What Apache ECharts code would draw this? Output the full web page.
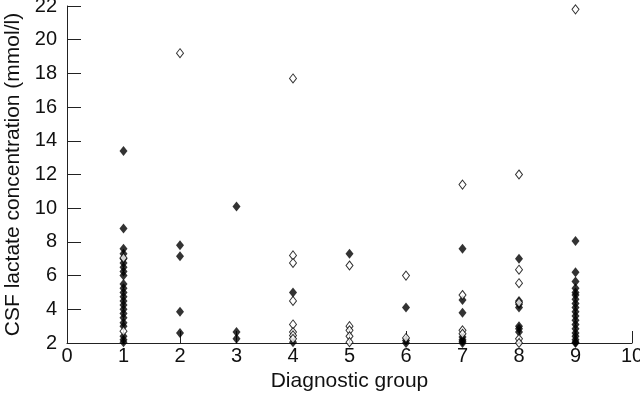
<!DOCTYPE html>
<html>
<head>
<meta charset="utf-8">
<script src="https://cdn.jsdelivr.net/npm/echarts@6/dist/echarts.min.js"></script>
<style>html,body{margin:0;padding:0;background:#fff}#c{width:640px;height:403px}</style>
</head>
<body>
<div id="c"></div>
<script>
var groups = [1, 2, 3, 4, 5, 6, 7, 8, 9];
var filledValues = [
  [13.4, 8.8, 7.6, 7.3, 7.0, 6.75, 6.5, 6.25, 6.0, 5.5, 5.25, 5.0, 4.75, 4.5, 4.25, 4.0, 3.75, 3.5, 3.2, 3.0, 2.4, 2.2, 2.05],
  [7.8, 7.15, 3.85, 2.6],
  [10.1, 2.65, 2.25],
  [5.0, 2.05],
  [7.3],
  [4.1, 2.15, 2.0],
  [7.6, 4.55, 3.8, 2.35, 2.2, 2.1, 2.0],
  [7.0, 4.5, 4.3, 4.1, 3.0, 2.85, 2.65],
  [8.05, 6.2, 5.65, 5.25, 5.0, 4.85, 4.6, 4.35, 4.1, 3.85, 3.6, 3.35, 3.1, 2.85, 2.6, 2.4, 2.2, 2.05, 2.0]
];
var openValues = [
  [7.05, 2.7],
  [19.2],
  [],
  [17.7, 7.2, 6.75, 4.5, 3.1, 2.65, 2.45, 2.25],
  [6.6, 3.0, 2.75, 2.4, 2.05],
  [6.0, 2.3],
  [11.4, 4.85, 2.75, 2.55],
  [12.0, 6.35, 5.55, 4.4, 2.25, 2.0],
  [21.8]
];
var xTicks = [0, 1, 2, 3, 4, 5, 6, 7, 8, 9, 10];
var yTicks = [2, 4, 6, 8, 10, 12, 14, 16, 18, 20, 22];

function toPairs(vals) {
  var out = [];
  groups.forEach(function (g, i) {
    vals[i].forEach(function (v) { out.push([g, v]); });
  });
  return out;
}

var chart = echarts.init(document.getElementById('c'));
var font = 'Liberation Sans, Arial, Helvetica, sans-serif';
chart.setOption({
  animation: false,
  backgroundColor: '#fff',
  grid: { left: 67, right: 8, top: 6, bottom: 60, containLabel: false, outerBoundsMode: 'none' },
  xAxis: {
    type: 'value', min: xTicks[0], max: xTicks[xTicks.length - 1], interval: 1,
    name: 'Diagnostic group', nameLocation: 'middle', nameGap: 27,
    nameTextStyle: { fontFamily: font, fontSize: 21, color: '#111' },
    axisLine: { lineStyle: { color: '#222', width: 1 } },
    axisTick: { inside: true, length: 12, lineStyle: { color: '#222' } },
    axisLabel: { fontFamily: font, fontSize: 20, color: '#111', margin: 3 },
    splitLine: { show: false }
  },
  yAxis: {
    type: 'value', min: yTicks[0], max: yTicks[yTicks.length - 1], interval: 2,
    name: 'CSF lactate concentration (mmol/l)', nameLocation: 'middle', nameGap: 43,
    nameTextStyle: { fontFamily: font, fontSize: 21, color: '#111' },
    axisLine: { show: true, lineStyle: { color: '#222', width: 1 } },
    axisTick: { show: true, inside: true, length: 14, lineStyle: { color: '#222' } },
    axisLabel: { fontFamily: font, fontSize: 20, color: '#111', margin: 10 },
    splitLine: { show: false }
  },
  series: [
    {
      type: 'scatter', data: toPairs(filledValues), symbol: 'diamond', symbolSize: [8, 10],
      itemStyle: { color: '#000' }, z: 2
    },
    {
      type: 'scatter', data: toPairs(openValues), symbol: 'diamond', symbolSize: [7, 9],
      itemStyle: { color: '#fff', borderColor: '#000', borderWidth: 1 }, z: 3
    }
  ]
});
</script>
</body>
</html>
